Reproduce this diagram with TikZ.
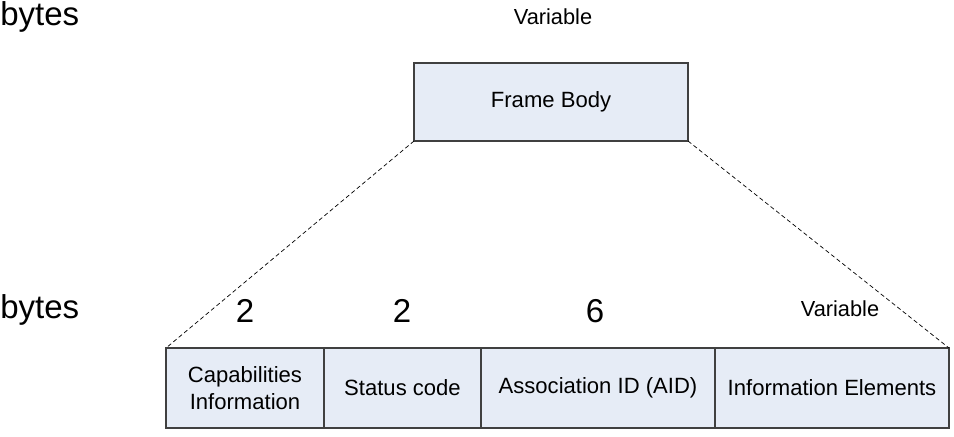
\documentclass[tikz,border=0pt]{standalone}
\usepackage{fontspec}
\setmainfont{Liberation Sans}
\usepackage{tikz}
\usetikzlibrary{positioning}
\definecolor{fieldfill}{RGB}{230, 236, 246}
\definecolor{fieldline}{RGB}{64, 64, 64}

\begin{document}
\begin{tikzpicture}[
  field/.style={draw=fieldline, fill=fieldfill, line width=0.9pt, minimum height=2cm, outer sep=0pt, inner sep=0pt, align=center, font=\fontsize{15.7}{19}\selectfont},
  bigtxt/.style={font=\fontsize{23.5}{27}\selectfont},
  smalltxt/.style={font=\fontsize{15.5}{19}\selectfont},
  zoomline/.style={dashed, dash pattern=on 3pt off 2pt, line width=0.5pt}
]
\useasboundingbox (0,0) rectangle (23.85,10.9);

% Frame body
\node[field, minimum width=6.85cm, minimum height=1.95cm] (body) at (13.775,8.35) {Frame Body};
\node[smalltxt] (bodylen) at (13.825,10.475) {Variable};
\node[bigtxt, anchor=west, inner sep=0pt] (bytestop) at (0,10.475) {bytes};

% Fields
\node[field, minimum width=3.95cm] (cap) at (6.125,1.2) {Capabilities\\Information};
\node[field, minimum width=3.925cm, right=0cm of cap] (status) {Status code};
\node[field, minimum width=5.85cm, right=0cm of status] (aid) {Association ID (AID)};
\node[field, minimum width=5.85cm, right=0cm of aid] (ie) {Information Elements};

% Lengths
\node[bigtxt, anchor=west, inner sep=0pt] (bytesbot) at (0,3.15) {bytes};
\node[bigtxt] (caplen) at (6.125,3.125) {2};
\node[bigtxt] (statuslen) at (10.05,3.125) {2};
\node[bigtxt] (aidlen) at (14.875,3.125) {6};
\node[smalltxt] (ielen) at (21.0,3.175) {Variable};

% Zoom lines
\draw[zoomline] (body.south west) -- (cap.north west);
\draw[zoomline] (body.south east) -- (ie.north east);
\end{tikzpicture}
\end{document}
